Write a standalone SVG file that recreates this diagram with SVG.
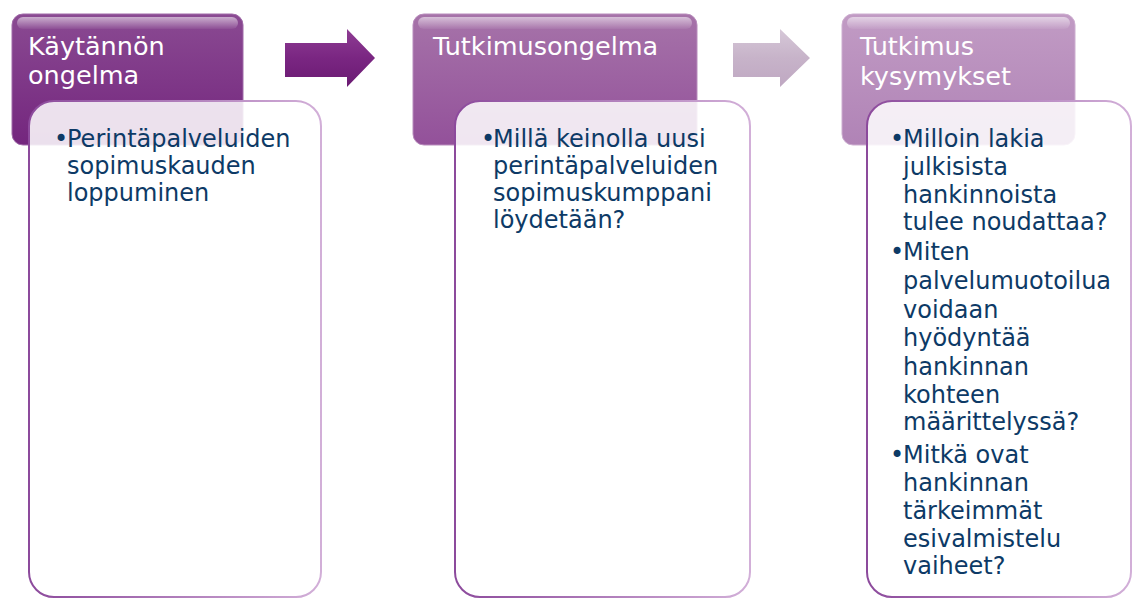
<svg xmlns="http://www.w3.org/2000/svg" width="1133" height="598" viewBox="0 0 1133 598">
<style>
.hd{font-family:"DejaVu Sans","Liberation Sans",sans-serif;font-size:25.5px;fill:#ffffff}
.bd{font-family:"DejaVu Sans","Liberation Sans",sans-serif;font-size:24px;fill:#0d3a66}
.card{fill:#ffffff;fill-opacity:0.86;stroke:url(#cardStroke);stroke-width:2}
.gloss{fill:url(#gloss)}
</style>
<defs>
<linearGradient id="g1" x1="0" y1="0" x2="0" y2="1">
<stop offset="0" stop-color="#8a4a92"/><stop offset="1" stop-color="#74267e"/>
</linearGradient>
<linearGradient id="g2" x1="0" y1="0" x2="0" y2="1">
<stop offset="0" stop-color="#a673a9"/><stop offset="1" stop-color="#93519a"/>
</linearGradient>
<linearGradient id="g3" x1="0" y1="0" x2="0" y2="1">
<stop offset="0" stop-color="#c19bc4"/><stop offset="1" stop-color="#b083b6"/>
</linearGradient>
<linearGradient id="gloss" x1="0" y1="0" x2="0" y2="1">
<stop offset="0" stop-color="#ffffff" stop-opacity="0.55"/><stop offset="1" stop-color="#ffffff" stop-opacity="0.05"/>
</linearGradient>
<linearGradient id="cardStroke" x1="0" y1="0" x2="1" y2="0">
<stop offset="0" stop-color="#8c4a9c"/><stop offset="1" stop-color="#d2afd8"/>
</linearGradient>
<linearGradient id="a1" x1="0" y1="0" x2="0" y2="1">
<stop offset="0" stop-color="#8e3d93"/><stop offset="0.5" stop-color="#7a2682"/><stop offset="1" stop-color="#6a1a72"/>
</linearGradient>
<linearGradient id="a2" x1="0" y1="0" x2="0" y2="1">
<stop offset="0" stop-color="#d6c8d8"/><stop offset="0.5" stop-color="#c7b3c9"/><stop offset="1" stop-color="#bfa8c2"/>
</linearGradient>
</defs>
<rect width="1133" height="598" fill="#ffffff"/>
<g id="connectors">
<path d="M285 43 H347 V29 L375 58 L347 87 V77 H285 Z" fill="url(#a1)"/>
<path d="M733 43 H780 V29 L810 58 L780 87 V77 H733 Z" fill="url(#a2)"/>
</g>
<g id="node1">
<rect x="12" y="14" width="231" height="131" rx="11" fill="url(#g1)" stroke="#a06aa8" stroke-width="1"/>
<rect x="17" y="17" width="221" height="12" rx="6" class="gloss"/>
<text class="hd" x="28" y="55">Käytännön</text>
<text class="hd" x="28" y="84">ongelma</text>
<rect x="29" y="101" width="292" height="496" rx="25" class="card"/>
<text class="bd"><tspan x="54" y="147">•</tspan><tspan x="67" y="147">Perintäpalveluiden</tspan><tspan x="67" y="174">sopimuskauden</tspan><tspan x="67" y="201">loppuminen</tspan></text>
</g>
<g id="node2">
<rect x="413" y="14" width="284" height="131" rx="11" fill="url(#g2)" stroke="#b88cbc" stroke-width="1"/>
<rect x="418" y="17" width="274" height="12" rx="6" class="gloss"/>
<text class="hd" x="433" y="55">Tutkimusongelma</text>
<rect x="455" y="101" width="295" height="496" rx="25" class="card"/>
<text class="bd"><tspan x="481" y="147">•</tspan><tspan x="493" y="147">Millä keinolla uusi</tspan><tspan x="493" y="174">perintäpalveluiden</tspan><tspan x="493" y="201">sopimuskumppani</tspan><tspan x="493" y="228">löydetään?</tspan></text>
</g>
<g id="node3">
<rect x="842" y="14" width="233" height="131" rx="11" fill="url(#g3)" stroke="#cdaed0" stroke-width="1"/>
<rect x="847" y="17" width="223" height="12" rx="6" class="gloss"/>
<text class="hd" x="860" y="55">Tutkimus</text>
<text class="hd" x="860" y="85">kysymykset</text>
<rect x="867" y="101" width="264" height="496" rx="25" class="card"/>
<text class="bd"><tspan x="890" y="147">•</tspan><tspan x="903" y="147">Milloin lakia</tspan><tspan x="903" y="175">julkisista</tspan><tspan x="903" y="203">hankinnoista</tspan><tspan x="903" y="230">tulee noudattaa?</tspan><tspan x="890" y="260">•</tspan><tspan x="903" y="260">Miten</tspan><tspan x="903" y="289">palvelumuotoilua</tspan><tspan x="903" y="318">voidaan</tspan><tspan x="903" y="346">hyödyntää</tspan><tspan x="903" y="375">hankinnan</tspan><tspan x="903" y="403">kohteen</tspan><tspan x="903" y="430">määrittelyssä?</tspan><tspan x="890" y="463">•</tspan><tspan x="903" y="463">Mitkä ovat</tspan><tspan x="903" y="491">hankinnan</tspan><tspan x="903" y="519">tärkeimmät</tspan><tspan x="903" y="547">esivalmistelu</tspan><tspan x="903" y="574">vaiheet?</tspan></text>
</g>
</svg>
